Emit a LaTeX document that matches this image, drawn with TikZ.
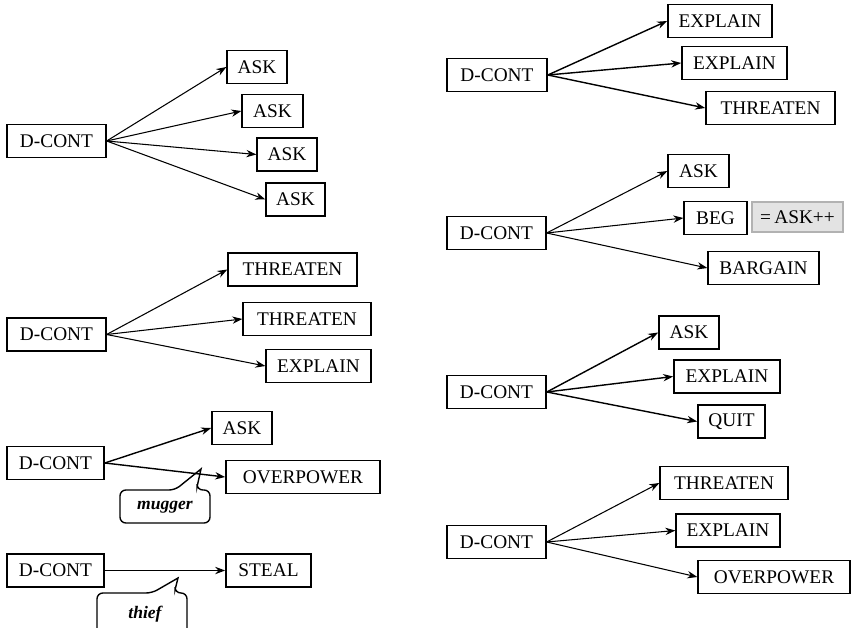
\documentclass[tikz,border=0pt]{standalone}
\usepackage{fontspec}
\setmainfont{Liberation Serif}
\usepackage{tikz}
\usetikzlibrary{arrows.meta}

\begin{document}
\begin{tikzpicture}[
    x=0.3mm, y=-0.3mm,
    act/.style={
      draw, line width=1.1pt, inner sep=0pt,
      minimum width=#1*0.3mm, minimum height=9.9mm,
      font=\fontsize{16.5}{18}\selectfont
    },
    heavy/.style={line width=1.4pt},
    note/.style={act=#1, fill=gray!22, draw=gray!60},
    arr/.style={-{Stealth[length=3mm, width=2.2mm]}, line width=0.9pt},
    darr/.style={arr, line width=1.2pt},
    callout/.style={line width=1.2pt, rounded corners=5pt},
    calltext/.style={font=\fontsize{15}{17}\selectfont\bfseries\itshape},
  ]
    \useasboundingbox (0,0) rectangle (851,628);

    % left column
    \node[act=99] (d1) at (56.5,141) {D-CONT};
    \node[act=60] (a11) at (257,67) {ASK};
    \node[act=61] (a12) at (272.5,111) {ASK};
    \node[act=60] (a13) at (287,154.5) {ASK};
    \node[act=59] (a14) at (295.5,199.5) {ASK};
    \draw[arr] (d1.east) -- (a11.west);
    \draw[arr] (d1.east) -- (a12.west);
    \draw[arr] (d1.east) -- (a13.west);
    \draw[arr] (d1.east) -- (a14.west);

    \node[act=99] (d2) at (56.5,334.5) {D-CONT};
    \node[act=129] (t21) at (292.5,269.5) {THREATEN};
    \node[act=128] (t22) at (307,319) {THREATEN};
    \node[act=105] (e23) at (318.5,366) {EXPLAIN};
    \draw[arr] (d2.east) -- (t21.west);
    \draw[arr] (d2.east) -- (t22.west);
    \draw[arr] (d2.east) -- (e23.west);

    \node[act=97, heavy] (d3) at (55.5,463) {D-CONT};
    \node[act=60, heavy] (a31) at (242,428) {ASK};
    \node[act=154, heavy] (o32) at (303,477) {OVERPOWER};
    \draw[darr] (d3.east) -- (a31.west);
    \draw[darr] (d3.east) -- (o32.west);
    \node[calltext] (mug) at (165,507) {mugger};
    \coordinate (mugtip) at (201,469);
    \draw[callout] (mugtip) -- (175,490) -- (120,490) -- (120,523)
      -- (210,523) -- (210,490) -- (197,490) [sharp corners] -- (197,487) -- cycle;

    \node[act=97, heavy] (d4) at (55.5,570.5) {D-CONT};
    \node[act=85, heavy] (s41) at (268.5,570.5) {STEAL};
    \draw[darr] (d4.east) -- (s41.west);
    \node[calltext] (thf) at (145,614) {thief};
    \coordinate (thftip) at (178,578);
    \draw[callout] (thftip) -- (152,593) -- (97,593) -- (97,640)
      -- (187,640) -- (187,593) -- (175,593) [sharp corners] -- (175,590) -- cycle;

    % right column
    \node[act=100, heavy] (d5) at (497,75) {D-CONT};
    \node[act=104, heavy] (e51) at (720,21) {EXPLAIN};
    \node[act=105, heavy] (e52) at (734.5,63) {EXPLAIN};
    \node[act=129, heavy] (t53) at (770.5,108) {THREATEN};
    \draw[darr] (d5.east) -- (e51.west);
    \draw[darr] (d5.east) -- (e52.west);
    \draw[darr] (d5.east) -- (t53.west);

    \node[act=99] (d6) at (496.5,233) {D-CONT};
    \node[act=61] (a61) at (698.5,171) {ASK};
    \node[act=63] (b62) at (715.5,218) {BEG};
    \node[note=91, minimum height=9mm] (eq) at (797.5,217) {=\,ASK++};
    \node[act=111] (b63) at (763.5,268) {BARGAIN};
    \draw[arr] (d6.east) -- (a61.west);
    \draw[arr] (d6.east) -- (b62.west);
    \draw[arr] (d6.east) -- (b63.west);

    \node[act=99, heavy] (d7) at (496.5,392) {D-CONT};
    \node[act=60, heavy] (a71) at (689,332.5) {ASK};
    \node[act=106, heavy] (e72) at (727,376.5) {EXPLAIN};
    \node[act=67, heavy] (q73) at (731.5,421.5) {QUIT};
    \draw[darr] (d7.east) -- (a71.west);
    \draw[darr] (d7.east) -- (e72.west);
    \draw[darr] (d7.east) -- (q73.west);

    \node[act=99] (d8) at (496.5,542) {D-CONT};
    \node[act=128] (t81) at (724,483) {THREATEN};
    \node[act=104] (e82) at (728,530.5) {EXPLAIN};
    \node[act=152] (o83) at (774,577) {OVERPOWER};
    \draw[arr] (d8.east) -- (t81.west);
    \draw[arr] (d8.east) -- (e82.west);
    \draw[arr] (d8.east) -- (o83.west);
  \end{tikzpicture}
\end{document}
